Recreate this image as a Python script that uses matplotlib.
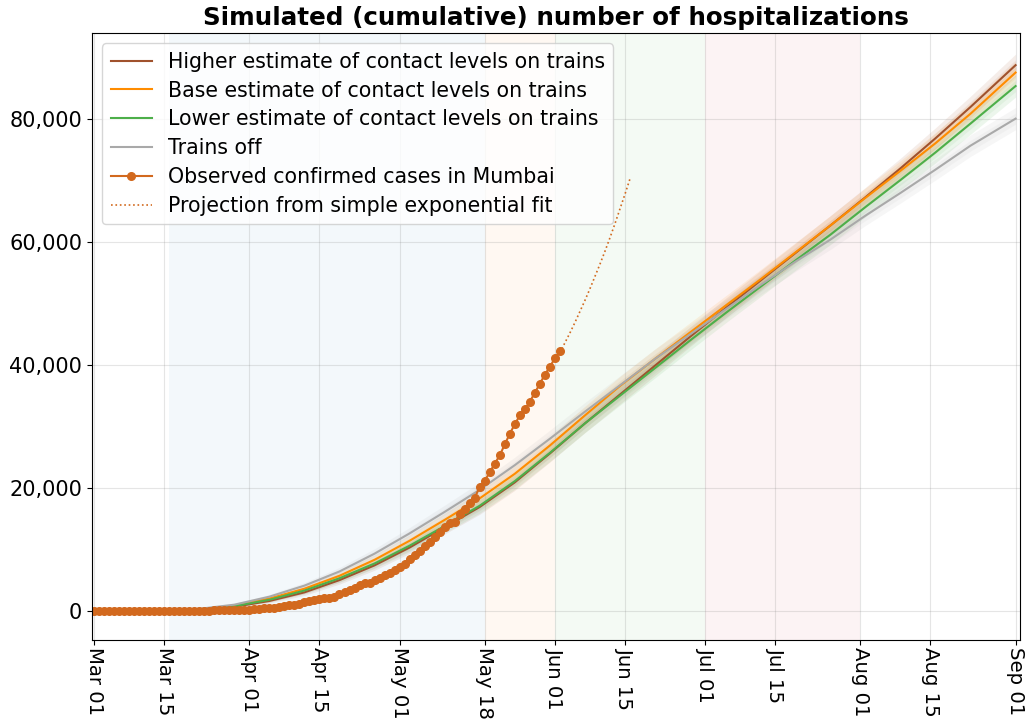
import matplotlib
matplotlib.use("Agg")
import matplotlib.pyplot as plt
import matplotlib.dates as mdates
import matplotlib.ticker as mticker
import numpy as np
import pandas as pd

start = pd.Timestamp("2020-03-01")

# model output, read every 7 days (last point is Sep 01)
model_days = [0, 7, 14, 21, 28, 35, 42, 49, 56, 63, 70, 77, 84, 91, 98, 105,
              112, 119, 126, 133, 140, 147, 154, 161, 168, 175, 184]
higher = [0, 0, 15, 170, 650, 1600, 3000, 5000, 7400, 10300, 13600, 16900,
          20900, 25600, 30500, 35200, 39900, 44600, 49200, 53700, 58200,
          62700, 67300, 72000, 76900, 82000, 88800]
base = [0, 0, 30, 250, 850, 2000, 3600, 5700, 8300, 11400, 14800, 18300,
        22300, 26900, 31800, 36600, 41000, 45300, 49600, 53900, 58300,
        62700, 67200, 71600, 76100, 80900, 87600]
lower = [0, 0, 25, 220, 750, 1800, 3300, 5300, 7700, 10600, 13800, 17100,
         21100, 25700, 30500, 35000, 39500, 44000, 48400, 52700, 57000,
         61200, 65700, 70100, 74600, 79300, 85400]
trains_off = [0, 0, 40, 320, 1000, 2300, 4100, 6400, 9300, 12600, 16100,
              19700, 23700, 28000, 32400, 36700, 41000, 45000, 49000, 53000,
              56800, 60400, 64300, 68000, 71800, 75700, 80100]
spread = [0, 0, 10, 80, 200, 350, 500, 650, 800, 950, 1100, 1200, 1300,
          1400, 1500, 1550, 1600, 1600, 1600, 1600, 1600, 1600, 1600, 1650,
          1700, 1750, 1800]

# observed cumulative cases in Mumbai, daily from Mar 01 to Jun 02
observed = [0, 0, 0, 0, 0, 0, 0, 0, 0, 0,
            2, 3, 5, 8, 10, 14, 16, 19, 22, 27, 36, 38, 48, 50, 55, 70, 81,
            92, 107, 120, 151,
            181, 278, 330, 377, 458, 526, 642, 714, 876, 993, 1146, 1399,
            1549, 1753, 1896, 2073, 2120, 2268, 2724, 3032, 3445, 3683, 4205,
            4447, 4589, 5049, 5407, 5776, 6169, 6644,
            7061, 7625, 8359, 9123, 9758, 10527, 11219, 11967, 12864, 13564,
            14355, 14521, 15747, 16579, 17512, 18396, 20150, 21152, 22563,
            23935, 25317, 27068, 28817, 30359, 31789, 32791, 34018, 35485,
            36932, 38442, 39686,
            41099, 42216]

# exponential fit projection, Jun 02 to Jun 16
proj = [42000, 43600, 45200, 46900, 48700, 50500, 52400, 54400, 56400,
        58500, 60700, 63000, 65400, 67800, 70300]

# policy phases
phases = [("2020-03-16", "2020-05-18", "tab:blue"),
          ("2020-05-18", "2020-06-01", "tab:orange"),
          ("2020-06-01", "2020-07-01", "tab:green"),
          ("2020-07-01", "2020-08-01", "tab:red")]

tick_dates = ["2020-03-01", "2020-03-15", "2020-04-01", "2020-04-15",
              "2020-05-01", "2020-05-18", "2020-06-01", "2020-06-15",
              "2020-07-01", "2020-07-15", "2020-08-01", "2020-08-15",
              "2020-09-01"]

mdates_x = start + pd.to_timedelta(model_days, unit="D")
obs_x = pd.date_range(start, periods=len(observed), freq="D")
proj_x = pd.date_range(obs_x[-1], periods=len(proj), freq="D")

fig = plt.figure(figsize=(10.28, 7.22), dpi=100)
ax = fig.add_axes([0.0895, 0.114, 0.9025, 0.84])

for a, b, c in phases:
    ax.axvspan(pd.Timestamp(a), pd.Timestamp(b), color=c, alpha=0.05, lw=0)

sp = np.array(spread)
series = [(higher, "sienna", "Higher estimate of contact levels on trains"),
          (base, "darkorange", "Base estimate of contact levels on trains"),
          (lower, "#4daf4a", "Lower estimate of contact levels on trains"),
          (trains_off, "darkgrey", "Trains off")]
for vals, c, lab in series:
    v = np.array(vals)
    ax.fill_between(mdates_x, v - sp, v + sp, color=c, alpha=0.1, lw=0)
    ax.fill_between(mdates_x, v - sp / 2, v + sp / 2, color=c, alpha=0.08, lw=0)
    ax.plot(mdates_x, v, color=c, lw=1.5, label=lab)

ax.plot(obs_x, observed, color="chocolate", marker="o", markersize=5.5,
        lw=1.5, label="Observed confirmed cases in Mumbai")
ax.plot(proj_x, proj, color="chocolate", ls=":", lw=1.2,
        label="Projection from simple exponential fit")

ax.set_xlim(pd.Timestamp("2020-02-29 14:00"), pd.Timestamp("2020-09-01 20:00"))
ax.set_ylim(-4700, 94000)
ax.set_xticks([pd.Timestamp(d) for d in tick_dates])
ax.xaxis.set_major_formatter(mdates.DateFormatter("%b %d"))
ax.yaxis.set_major_locator(mticker.MultipleLocator(20000))
ax.yaxis.set_major_formatter(mticker.StrMethodFormatter("{x:,.0f}"))
ax.tick_params(axis="x", labelsize=14.2, rotation=-90, pad=2)
ax.tick_params(axis="y", labelsize=15)
ax.grid(True, color="grey", alpha=0.2)

ax.set_title("Simulated (cumulative) number of hospitalizations",
             fontsize=17.7, fontweight="bold")
ax.legend(loc="upper left", fontsize=14.8, labelspacing=0.43)

fig.savefig("out.png", dpi=100)
